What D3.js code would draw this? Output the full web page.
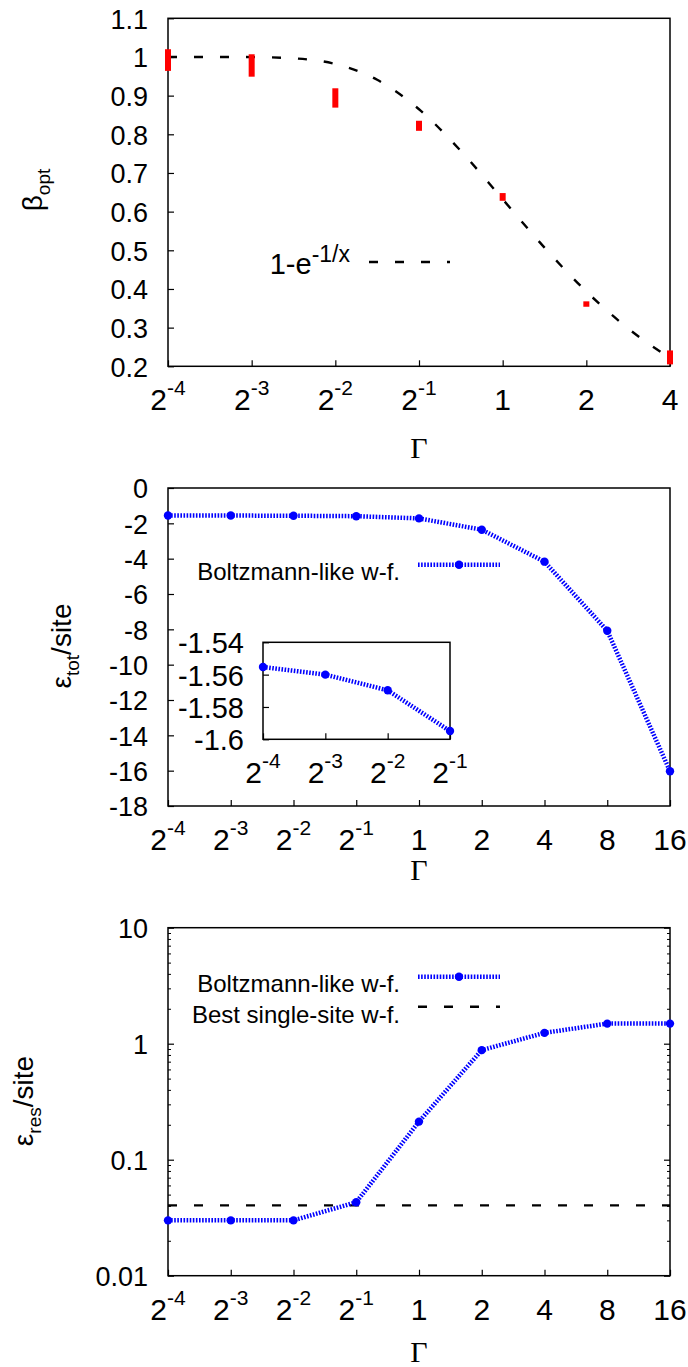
<!DOCTYPE html>
<html>
<head>
<meta charset="utf-8">
<script src="https://cdn.jsdelivr.net/npm/d3@7"></script>
<style>
  body { margin: 0; background: #fff; }
  text { font-family: "Liberation Sans", Arial, Helvetica, sans-serif; fill: #000; }
</style>
</head>
<body>
<svg></svg>
<script>
// ---- data ----
const gammaBeta = [0.0625, 0.125, 0.25, 0.5, 1, 2, 4];
const betaOpt = [0.992, 0.978, 0.894, 0.822, 0.638, 0.361, 0.223];
const betaErr = [0.028, 0.029, 0.025, 0.013, 0.010, 0.007, 0.018];

// dashed reference curve 1-e^(-1/x)
const fitGamma = [0.0625, 0.0884, 0.125, 0.1768, 0.25, 0.3536, 0.5, 0.7071, 1, 1.4142, 2, 2.8284, 4];
const fitBeta = [1.0, 1.0, 0.9997, 0.9965, 0.9817, 0.9409, 0.8647, 0.7569, 0.6321, 0.5069, 0.3935, 0.2978, 0.2212];

const gammaAll = [0.0625, 0.125, 0.25, 0.5, 1, 2, 4, 8, 16];
const eTot = [-1.555, -1.560, -1.570, -1.595, -1.72, -2.36, -4.17, -8.08, -16.03];
const gammaInset = [0.0625, 0.125, 0.25, 0.5];
const eTotInset = [-1.5553, -1.5600, -1.5697, -1.5949];
const eRes = [0.030, 0.030, 0.030, 0.043, 0.213, 0.88, 1.24, 1.49, 1.49];
const eBestSingle = 0.0404;

// tick labels
const topYTicks = [0.2, 0.3, 0.4, 0.5, 0.6, 0.7, 0.8, 0.9, 1, 1.1];
const topYLabels = ["0.2", "0.3", "0.4", "0.5", "0.6", "0.7", "0.8", "0.9", "1", "1.1"];
const midYTicks = [0, -2, -4, -6, -8, -10, -12, -14, -16, -18];
const insetYTicks = [-1.54, -1.56, -1.58, -1.6];
const botYTicks = [0.01, 0.1, 1, 10];
const botYLabels = ["0.01", "0.1", "1", "10"];

const sizes = {
  left: 168, right: 670,
  tick: 6, minor: 3,
  yFont: 27, xFont: 30, supFont: 21, legendFont: 24
};

const blue = "#0000ff";
const red = "#ff0000";

const svg = d3.select("svg").attr("width", 688).attr("height", 1367);
svg.append("rect").attr("width", 688).attr("height", 1367).attr("fill", "#fff");

function xTickLabel(g, x, y, v) {
  const t = g.append("text")
    .attr("x", x).attr("y", y)
    .attr("text-anchor", "middle")
    .style("font-size", sizes.xFont + "px");
  if (v < 1) {
    t.append("tspan").text("2");
    t.append("tspan").attr("dy", -15).style("font-size", sizes.supFont + "px")
      .text(String(Math.round(Math.log2(v))));
  } else {
    t.text(String(v));
  }
}

function drawFrame(g, x, y, xTicks, yTicks, yFmt, opts = {}) {
  const [x0, x1] = x.range();
  const [y0, y1] = y.range(); // y0 bottom, y1 top

  g.append("g")
    .attr("transform", `translate(0,${y0})`)
    .call(d3.axisBottom(x).tickValues(xTicks).tickSize(-sizes.tick).tickFormat(""))
    .call(a => a.select(".domain").remove())
    .selectAll("line").attr("stroke", "#000").attr("stroke-width", 1.2);

  xTicks.forEach(v => xTickLabel(g, x(v), y0 + 44, v));

  const left = g.append("g")
    .attr("transform", `translate(${x0},0)`)
    .call(d3.axisLeft(y).tickValues(yTicks).tickSize(-sizes.tick).tickPadding(opts.pad || 20).tickFormat(yFmt));
  left.select(".domain").remove();
  left.selectAll("line").attr("stroke", "#000").attr("stroke-width", 1.2);
  left.selectAll("text")
    .style("font-family", '"Liberation Sans", Arial, sans-serif')
    .style("font-size", (opts.yFont || sizes.yFont) + "px")
    .attr("dy", "0.36em");

  if (opts.minor) {
    g.append("g")
      .attr("transform", `translate(${x0},0)`)
      .call(d3.axisLeft(y).tickValues(opts.minor).tickSize(-sizes.minor).tickFormat(""))
      .call(a => a.select(".domain").remove())
      .selectAll("line").attr("stroke", "#000").attr("stroke-width", 1);
  }
  if (opts.mirror) {
    g.append("g")
      .attr("transform", `translate(${x1},0)`)
      .call(d3.axisRight(y).tickValues(yTicks).tickSize(-sizes.tick).tickFormat(""))
      .call(a => a.select(".domain").remove())
      .selectAll("line").attr("stroke", "#000").attr("stroke-width", 1.2);
    if (opts.minor) {
      g.append("g")
        .attr("transform", `translate(${x1},0)`)
        .call(d3.axisRight(y).tickValues(opts.minor).tickSize(-sizes.minor).tickFormat(""))
        .call(a => a.select(".domain").remove())
        .selectAll("line").attr("stroke", "#000").attr("stroke-width", 1);
    }
  }

  g.append("rect")
    .attr("x", x0).attr("y", y1)
    .attr("width", x1 - x0).attr("height", y0 - y1)
    .attr("fill", "none").attr("stroke", "#000").attr("stroke-width", 1.5);
}

function gammaTitle(y) {
  svg.append("text")
    .attr("x", (sizes.left + sizes.right) / 2).attr("y", y)
    .attr("text-anchor", "middle")
    .style("font-family", '"Liberation Serif", "Times New Roman", serif')
    .style("font-size", "30px")
    .text("Γ");
}

function yTitle(x, y, main, sub, rest) {
  const t = svg.append("text")
    .attr("transform", `translate(${x},${y}) rotate(-90)`)
    .attr("text-anchor", "middle")
    .style("font-size", "28px");
  t.append("tspan").text(main);
  t.append("tspan").attr("dy", 8).style("font-size", "19px").text(sub);
  if (rest) t.append("tspan").attr("dy", -8).text(rest);
}

function blueSeries(g, x, y, xs, ys) {
  const pts = xs.map((v, i) => [x(v), y(ys[i])]);
  g.append("path")
    .attr("d", d3.line()(pts))
    .attr("fill", "none")
    .attr("stroke", blue)
    .attr("stroke-width", 4.5)
    .attr("stroke-dasharray", "1.6,1.5");
  g.selectAll(null).data(pts).enter().append("circle")
    .attr("cx", d => d[0]).attr("cy", d => d[1])
    .attr("r", 4.2).attr("fill", blue);
}

function blueLegend(g, textX, baseY, sampleY, label) {
  g.append("text").attr("x", textX).attr("y", baseY)
    .attr("text-anchor", "end").style("font-size", sizes.legendFont + "px").text(label);
  g.append("line").attr("x1", 418).attr("x2", 500).attr("y1", sampleY).attr("y2", sampleY)
    .attr("stroke", blue).attr("stroke-width", 4.5).attr("stroke-dasharray", "1.6,1.5");
  g.append("circle").attr("cx", 459).attr("cy", sampleY).attr("r", 4.2).attr("fill", blue);
}

// ---------------- panel 1: beta_opt ----------------
{
  const g = svg.append("g");
  const x = d3.scaleLog().base(2).domain([0.0625, 4]).range([sizes.left, sizes.right]);
  const y = d3.scaleLinear().domain([0.2, 1.1]).range([366.3, 18.3]);

  drawFrame(g, x, y, gammaBeta, topYTicks, d => topYLabels[topYTicks.indexOf(d)]);

  const fit = fitGamma.map((v, i) => [x(v), y(fitBeta[i])]);
  g.append("path")
    .attr("d", d3.line().curve(d3.curveMonotoneX)(fit))
    .attr("fill", "none").attr("stroke", "#000")
    .attr("stroke-width", 2.4).attr("stroke-dasharray", "9,17");

  g.selectAll(null).data(gammaBeta).enter().append("rect")
    .attr("x", d => x(d) - 3)
    .attr("width", 6)
    .attr("y", (d, i) => y(betaOpt[i] + betaErr[i]))
    .attr("height", (d, i) => Math.max(4, y(betaOpt[i] - betaErr[i]) - y(betaOpt[i] + betaErr[i])))
    .attr("fill", red);

  const lt = g.append("text").attr("x", 350).attr("y", 274)
    .attr("text-anchor", "end").style("font-size", "29px");
  lt.append("tspan").text("1-e");
  lt.append("tspan").attr("dy", -12).style("font-size", "23px").text("-1/x");
  g.append("line").attr("x1", 369).attr("x2", 450).attr("y1", 262).attr("y2", 262)
    .attr("stroke", "#000").attr("stroke-width", 2.4).attr("stroke-dasharray", "9,17");

  gammaTitle(458);
  yTitle(42, 190, "β", "opt");
}

// ---------------- panel 2: eps_tot ----------------
{
  const g = svg.append("g");
  const x = d3.scaleLog().base(2).domain([0.0625, 16]).range([sizes.left, sizes.right]);
  const y = d3.scaleLinear().domain([-18, 0]).range([806, 488]);

  drawFrame(g, x, y, gammaAll, midYTicks, d => String(d));
  blueSeries(g, x, y, gammaAll, eTot);
  blueLegend(g, 400, 580, 564.7, "Boltzmann-like w-f.");

  // inset
  const gi = svg.append("g");
  const xi = d3.scaleLog().base(2).domain([0.0625, 0.5]).range([263, 450]);
  const yi = d3.scaleLinear().domain([-1.6, -1.54]).range([739.3, 642.3]);
  gi.append("rect").attr("x", 263).attr("y", 642.3).attr("width", 187).attr("height", 97).attr("fill", "#fff");
  drawFrame(gi, xi, yi, gammaInset, insetYTicks, d => String(d), { pad: 19, yFont: 29 });
  blueSeries(gi, xi, yi, gammaInset, eTotInset);

  gammaTitle(880);
  yTitle(71, 646, "ε", "tot", "/site");
}

// ---------------- panel 3: eps_res ----------------
{
  const g = svg.append("g");
  const x = d3.scaleLog().base(2).domain([0.0625, 16]).range([sizes.left, sizes.right]);
  const y = d3.scaleLog().domain([0.01, 10]).range([1275.7, 927.7]);

  const minor = [];
  botYTicks.slice(0, 3).forEach(d => { for (let k = 2; k <= 9; k++) minor.push(d * k); });

  drawFrame(g, x, y, gammaAll, botYTicks, d => botYLabels[botYTicks.indexOf(d)], { mirror: true, minor });

  g.append("line")
    .attr("x1", sizes.left).attr("x2", sizes.right)
    .attr("y1", y(eBestSingle)).attr("y2", y(eBestSingle))
    .attr("stroke", "#000").attr("stroke-width", 2.4).attr("stroke-dasharray", "9,17");

  blueSeries(g, x, y, gammaAll, eRes);
  blueLegend(g, 400, 991.7, 976.7, "Boltzmann-like w-f.");
  g.append("text").attr("x", 400).attr("y", 1023)
    .attr("text-anchor", "end").style("font-size", sizes.legendFont + "px").text("Best single-site w-f.");
  g.append("line").attr("x1", 418).attr("x2", 500).attr("y1", 1006.7).attr("y2", 1006.7)
    .attr("stroke", "#000").attr("stroke-width", 2.4).attr("stroke-dasharray", "9,17");

  gammaTitle(1362);
  yTitle(33, 1101, "ε", "res", "/site");
}
</script>
</body>
</html>
